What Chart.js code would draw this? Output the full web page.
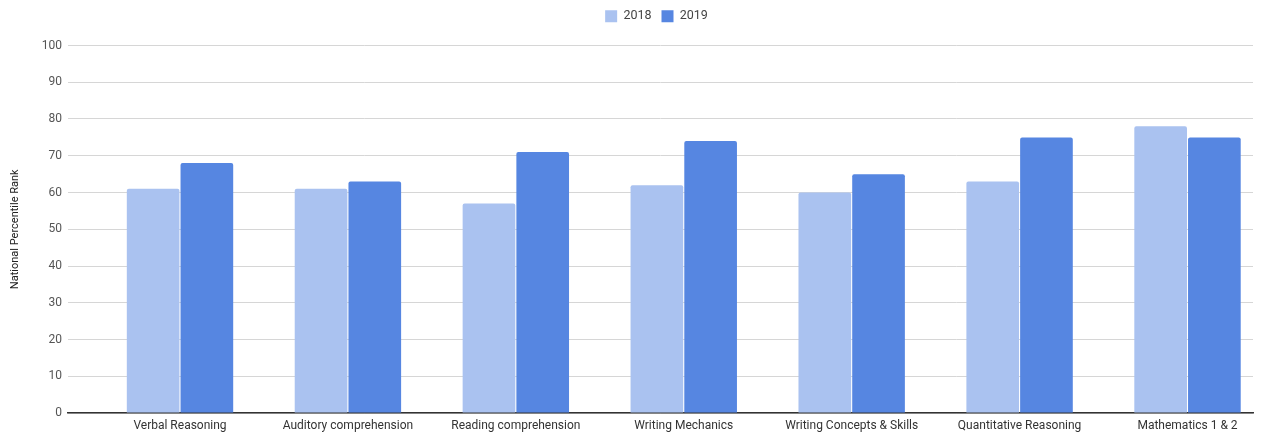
<!DOCTYPE html>
<html>
<head>
<meta charset="utf-8">
<script src="https://cdn.jsdelivr.net/npm/chart.js@4"></script>
<style>
  html, body { margin: 0; padding: 0; background: #fff; }
  #wrap { width: 1268px; height: 435px; position: relative; }
</style>
</head>
<body>
<div id="wrap"><canvas id="scoreChart"></canvas></div>
<script>
var categories = ["Verbal Reasoning", "Auditory comprehension", "Reading comprehension", "Writing Mechanics", "Writing Concepts & Skills", "Quantitative Reasoning", "Mathematics 1 & 2"];
var scores2018 = [61, 61, 57, 62, 60, 63, 78];
var scores2019 = [68, 63, 71, 74, 65, 75, 75];
var yTicks = [0, 10, 20, 30, 40, 50, 60, 70, 80, 90, 100];

function toPoints(arr){
	return arr.map(function(v, i){ return {x: i, y: v}; });
}

// push the plot down under the legend, and center the legend over the plot area
var legendTweak = {
	id: "legendTweak",
	beforeInit: function(chart){
		var lg = chart.legend;
		var fit = lg.fit;
		lg.fit = function(){
			fit.call(this);
			this.height += 13;
		};
		var draw = lg.draw;
		lg.draw = function(){
			var c = this.ctx;
			c.save();
			c.translate(30, 0);
			draw.call(this);
			c.restore();
		};
	}
};

Chart.defaults.font.family = "Roboto, 'Liberation Sans', Arial, sans-serif";

var ctx = document.getElementById("scoreChart");
var scoreChart = new Chart(ctx, {
	type: "bar",
	data: {
		datasets: [
			{
				label: "2018",
				data: toPoints(scores2018),
				backgroundColor: "#aac2f0",
				borderRadius: 2,
				borderSkipped: "bottom",
				categoryPercentage: 0.64,
				barPercentage: 0.98
			},
			{
				label: "2019",
				data: toPoints(scores2019),
				backgroundColor: "#5686e1",
				borderRadius: 2,
				borderSkipped: "bottom",
				categoryPercentage: 0.64,
				barPercentage: 0.98
			}
		]
	},
	plugins: [legendTweak],
	options: {
		responsive: true,
		maintainAspectRatio: false,
		animation: false,
		layout: { padding: { left: 0, right: 15, top: 0, bottom: 0 } },
		plugins: {
			legend: {
				position: "top",
				labels: {
					boxWidth: 12,
					boxHeight: 12,
					padding: 10,
					color: "#444",
					font: { size: 12.5 }
				}
			},
			tooltip: { enabled: false }
		},
		scales: {
			x: {
				type: "linear",
				offset: false,
				min: -0.667,
				max: 6.39,
				grid: { display: false, drawTicks: false },
				border: { display: true, color: "#333", width: 1.5 },
				ticks: {
					stepSize: 1,
					includeBounds: false,
					autoSkip: false,
					maxRotation: 0,
					padding: 6,
					color: "#333",
					font: { size: 12 },
					callback: function(v){ return categories[v] !== undefined ? categories[v] : ""; }
				},
				afterFit: function(scale){ scale.height = 22; }
			},
			y: {
				min: 0,
				max: 100,
				grid: { color: "#d6d6d6", drawTicks: false },
				border: { display: false },
				ticks: {
					stepSize: 10,
					padding: 6,
					color: "#555",
					font: { size: 12 }
				},
				afterBuildTicks: function(scale){
					scale.ticks = yTicks.map(function(v){ return {value: v}; });
				},
				title: {
					display: true,
					text: "National Percentile Rank",
					color: "#222",
					font: { size: 11 },
					padding: { top: 9, bottom: 0 }
				},
				afterFit: function(scale){ scale.width = 68; }
			}
		}
	}
});
</script>
</body>
</html>
